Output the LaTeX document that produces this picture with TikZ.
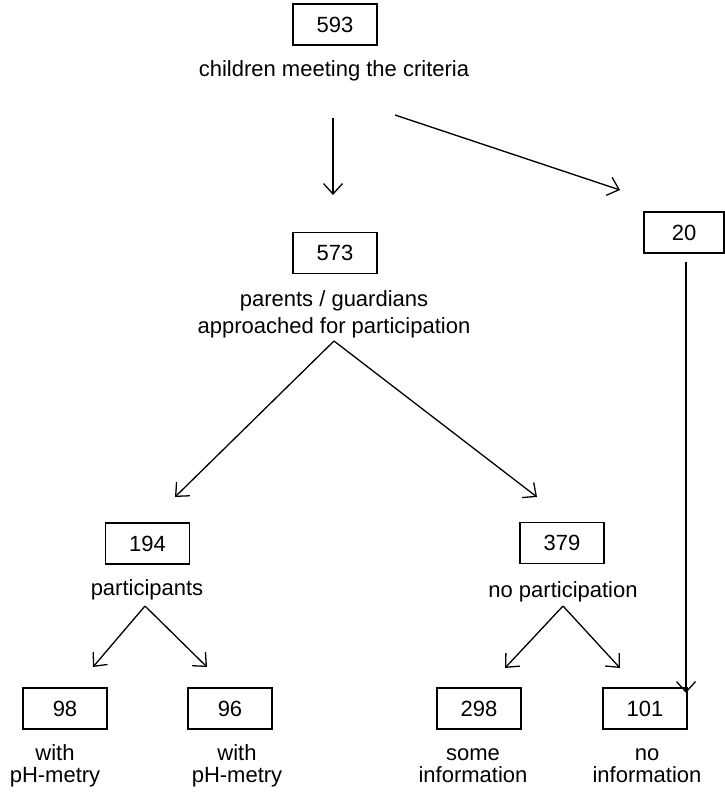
\documentclass[tikz,border=0pt]{standalone}
\usepackage{fontspec}
\setmainfont{Liberation Sans}
\usetikzlibrary{arrows.meta}
\begin{document}
\begin{tikzpicture}[x=1pt,y=-1pt,
        numbox/.style={draw,line width=1.2pt,minimum width=84pt,minimum height=41pt,inner sep=0pt,font=\fontsize{22pt}{26pt}\selectfont},
        lbl/.style={anchor=base,align=center,inner sep=0pt,font=\fontsize{22pt}{22pt}\selectfont},
        arr/.style={-{Straight Barb[length=10.5pt,width=19pt]},line width=1.3pt}]
        \useasboundingbox (0,0) rectangle (725,792);
        \node[numbox] (b593) at (335,24.5) {593};
        \node[lbl] (l593) at (334,77) {children meeting the criteria};
        \node[numbox] (b573) at (335,253) {573};
        \node[lbl,font=\fontsize{22pt}{27pt}\selectfont] (l573) at (334,333) {parents / guardians\\approached for participation};
        \node[numbox,minimum width=80pt] (b20) at (684,232.5) {20};
        \node[numbox] (b194) at (147.5,543.5) {194};
        \node[lbl] (l194) at (147,595) {participants};
        \node[numbox] (b379) at (562,543) {379};
        \node[lbl] (l379) at (563,597) {no participation};
        \node[numbox] (b98) at (65,708.5) {98};
        \node[lbl] (l98) at (55,782.5) {with\\pH-metry};
        \node[numbox] (b96) at (230,708.5) {96};
        \node[lbl] (l96) at (237,782.5) {with\\pH-metry};
        \node[numbox] (b298) at (479,708.5) {298};
        \node[lbl] (l298) at (473,782.5) {some\\information};
        \node[numbox] (b101) at (645,708.5) {101};
        \node[lbl] (l101) at (647,782.5) {no\\information};
        \coordinate (s593) at (333,118);
        \coordinate (e573) at (333,195);
        \coordinate (r593) at (395,115);
        \coordinate (e20) at (620,190);
        \coordinate (s20) at (686,262);
        \coordinate (e101) at (686,693);
        \coordinate (p573) at (334,341);
        \coordinate (e194) at (175,497);
        \coordinate (e379) at (537,497);
        \coordinate (p194) at (145,606);
        \coordinate (e98) at (93,667);
        \coordinate (e96) at (207,667);
        \coordinate (p379) at (563,606);
        \coordinate (e298) at (505,668);
        \coordinate (e101b) at (620,668);
        \draw[arr] (s593) -- (e573);
        \draw[arr] (r593) -- (e20);
        \draw[arr] (s20) -- (e101);
        \draw[arr] (p573) -- (e194);
        \draw[arr] (p573) -- (e379);
        \draw[arr] (p194) -- (e98);
        \draw[arr] (p194) -- (e96);
        \draw[arr] (p379) -- (e298);
        \draw[arr] (p379) -- (e101b);
    \end{tikzpicture}
\end{document}
